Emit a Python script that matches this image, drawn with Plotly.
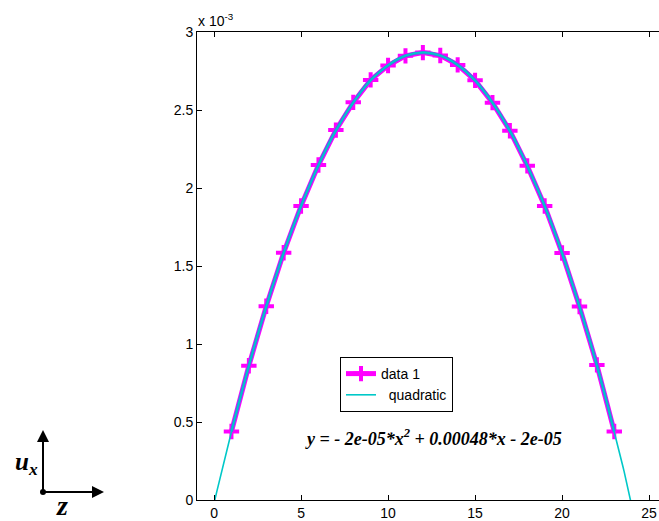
import numpy as np
import plotly.graph_objects as go

# ---- data ----
x_data = list(range(1, 24))
y_data_e3 = [0.439, 0.861, 1.242, 1.585, 1.885, 2.147, 2.371, 2.549, 2.693, 2.785,
             2.847, 2.868, 2.849, 2.789, 2.690, 2.547, 2.367, 2.142, 1.885, 1.583,
             1.240, 0.866, 0.439]
y_data = [v * 1e-3 for v in y_data_e3]

y_tickvals_e3 = [0, 0.5, 1, 1.5, 2, 2.5, 3]
y_ticktext = ["0", "0.5", "1", "1.5", "2", "2.5", "3"]
x_tickvals = [0, 5, 10, 15, 20, 25]

equation_text = "y = - 2e-05*x<sup>2</sup> + 0.00048*x - 2e-05"

# quadratic fit of the data
coef = np.polyfit(x_data, y_data, 2)
x_fit = np.linspace(-1, 26, 400)
y_fit = np.polyval(coef, x_fit)

W, H = 659, 521
L, R, T, B = 197, 0, 32, 21
pw, ph = W - L - R, H - T - B


def px(xp):
    return (xp - L) / pw


def py(yp):
    return (H - B - yp) / ph


fig = go.Figure()
fig.add_trace(go.Scatter(
    x=x_data, y=y_data, mode="lines+markers", name="data 1",
    line=dict(color="#ff00ff", width=5),
    marker=dict(symbol="cross-thin", size=11, color="#ff00ff",
                line=dict(color="#ff00ff", width=4)),
))
fig.add_trace(go.Scatter(
    x=x_data, y=y_data, mode="lines", showlegend=False, hoverinfo="skip",
    line=dict(color="#3c82dc", width=3.2, shape="spline"),
))
fig.add_trace(go.Scatter(
    x=x_fit, y=y_fit, mode="lines", name="\u00a0\u00a0quadratic",
    line=dict(color="#00c8c8", width=1.6),
))

axis_font = dict(family="Liberation Sans, Arial, sans-serif", size=14, color="black")

fig.update_layout(
    width=W, height=H,
    margin=dict(l=L, r=R, t=T, b=B, pad=0),
    paper_bgcolor="white", plot_bgcolor="white",
    font=axis_font,
    showlegend=True,
    legend=dict(
        x=px(340), y=py(357), xanchor="left", yanchor="top",
        bgcolor="white", bordercolor="black", borderwidth=1,
        font=dict(family="Liberation Sans, Arial, sans-serif", size=14, color="black"),
        tracegroupgap=0, itemwidth=30,
    ),
    xaxis=dict(
        range=[-0.98, 25.57], tickvals=x_tickvals,
        showgrid=False, zeroline=False,
        showline=True, linecolor="black", linewidth=1, mirror="ticks",
        ticks="inside", ticklen=5, tickcolor="black", tickfont=axis_font,
    ),
    yaxis=dict(
        range=[0, 0.003], tickvals=[v * 1e-3 for v in y_tickvals_e3], ticktext=y_ticktext,
        showgrid=False, zeroline=False,
        showline=True, linecolor="black", linewidth=1, mirror=False,
        ticks="inside", ticklen=5, tickcolor="black", tickfont=axis_font,
    ),
)

# exponent label
fig.add_annotation(
    xref="paper", yref="paper", x=-0.002, y=1, xanchor="left", yanchor="bottom",
    text="x 10<sup>-3</sup>", showarrow=False, yshift=1,
    font=dict(family="Liberation Sans, Arial, sans-serif", size=14, color="black"),
)

# equation
fig.add_annotation(
    xref="paper", yref="paper", x=px(433), y=py(437), xanchor="center", yanchor="middle",
    text="<b><i>" + equation_text + "</i></b>", showarrow=False,
    font=dict(family="Liberation Serif, Times New Roman, serif", size=18, color="black"),
)

# coordinate icon (bottom-left)
ox, oy = 43, 492
fig.add_annotation(
    xref="paper", yref="paper", x=px(ox), y=py(430), ax=0, ay=62,
    axref="pixel", ayref="pixel", text="", showarrow=True,
    arrowhead=2, arrowsize=1.2, arrowwidth=2, arrowcolor="black",
)
fig.add_annotation(
    xref="paper", yref="paper", x=px(104), y=py(oy), ax=-61, ay=0,
    axref="pixel", ayref="pixel", text="", showarrow=True,
    arrowhead=2, arrowsize=1.2, arrowwidth=2, arrowcolor="black",
)
fig.add_shape(
    type="circle", xref="paper", yref="paper",
    x0=px(ox - 3), x1=px(ox + 3), y0=py(oy + 3), y1=py(oy - 3),
    fillcolor="black", line=dict(color="black", width=0),
)
fig.add_annotation(
    xref="paper", yref="paper", x=px(26), y=py(463), xanchor="center", yanchor="middle",
    text="<b><i>u<sub>x</sub></i></b>", showarrow=False,
    font=dict(family="Liberation Serif, Times New Roman, serif", size=25, color="black"),
)
fig.add_annotation(
    xref="paper", yref="paper", x=px(62), y=py(505), xanchor="center", yanchor="middle",
    text="<b><i>z</i></b>", showarrow=False,
    font=dict(family="Liberation Serif, Times New Roman, serif", size=28, color="black"),
)

fig.write_html("out.html", config={"displayModeBar": False},
               post_script="document.body.style.margin='0px';")
